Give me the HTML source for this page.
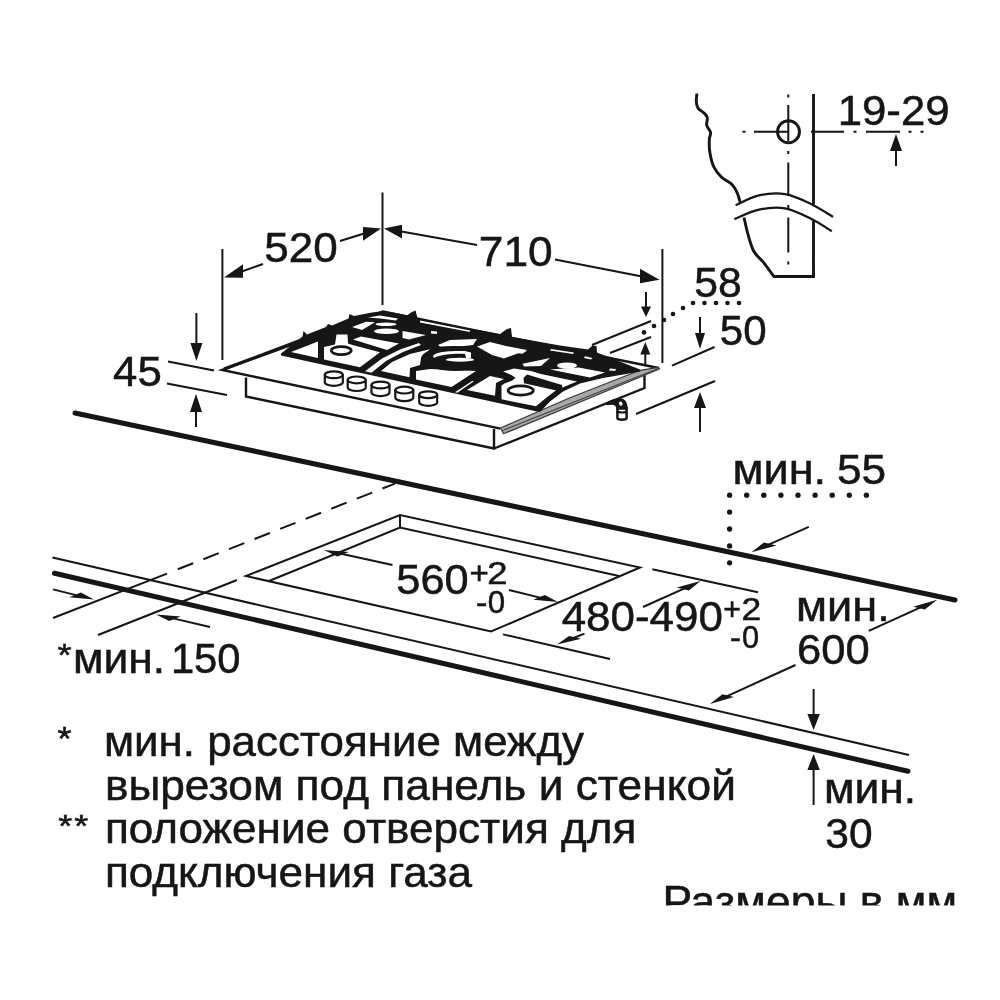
<!DOCTYPE html>
<html>
<head>
<meta charset="utf-8">
<title>Installation dimensions</title>
<style>
html,body{margin:0;padding:0;background:#fff;}
body{width:1000px;height:1000px;overflow:hidden;position:relative;}
svg{position:absolute;left:0;top:0;display:block;}
text{font-family:"Liberation Sans",sans-serif;fill:#141414;stroke:#141414;stroke-width:0.5px;}
.k{stroke:#141414;fill:none;stroke-linecap:butt;stroke-linejoin:miter;}
.n{stroke-width:2;}
.m{stroke-width:2.9;}
.h{stroke-width:5;stroke-linecap:round;}
.a{fill:#141414;stroke:none;}
.w{fill:#fff;stroke:none;}
.gr{stroke:#777;fill:none;stroke-width:1.6;}
</style>
</head>
<body>
<svg width="1000" height="1000" viewBox="0 0 1000 1000">
<defs>
<clipPath id="cp"><rect x="0" y="0" width="1000" height="905.5"/></clipPath>
<filter id="soft" x="0" y="0" width="1000" height="1000" filterUnits="userSpaceOnUse"><feGaussianBlur stdDeviation="0.55"/></filter>
</defs>
<rect width="1000" height="1000" fill="#fff"/>
<g clip-path="url(#cp)"><g filter="url(#soft)">
<!-- wall section -->
<g class="k m" stroke-linejoin="round">
<path d="M696.9,93.5 C696.8,94.9 696.1,99.4 696.3,101.9 C696.5,104.4 696.9,106.6 698.2,108.4 C699.5,110.2 702.5,111.5 704,113 C705.5,114.5 706.8,115.5 707.3,117.5 C707.8,119.5 706.2,122.8 706.7,125.3 C707.2,127.8 710.2,130.1 710.6,132.5 C711,134.9 709.4,136.2 709.3,139.6 C709.2,142.9 709.1,148 709.9,152.6 C710.6,157.2 711.8,162.8 713.8,166.9 C715.8,171 718.6,174.4 721.6,177.3 C724.6,180.2 729.4,181.9 732,184.5 C734.6,187.1 735.8,189.7 737.2,192.9 C738.6,196.1 740,201.7 740.5,203.5"/>
<path d="M744,217.5 C744.7,220.3 746.4,228.8 748,234.4 C749.6,240 751.3,246.8 753.8,251.3 C756.3,255.9 761.5,260 763,261.7 L774,276.5 L813.5,276.5 L813.5,221"/>
<path d="M813.5,94 L813.5,204.5"/>
<circle cx="788.5" cy="131.8" r="11"/>
</g>
<g class="k" stroke-width="2.2">
<path d="M735.6,205.2 C739.5,203.6 750.8,197.2 759,195.4 C767.2,193.6 776.3,192.7 785,194.1 C793.7,195.5 803,200.1 811,203.9 C819,207.7 829.4,214.7 833.1,216.9"/>
<path d="M734.3,219.1 C738.4,217.5 750.5,211.5 759,209.7 C767.5,207.9 776.3,206.9 785,208.4 C793.7,209.9 803.2,215 811,218.8 C818.8,222.6 828.3,229.1 831.8,231.2"/>
</g>
<g class="k n">
<path d="M788.300,94.500 v3 M788.300,105 V141 M788.300,151 v3 M788.300,162.5 V195.400 M788.300,205 v4 M788.300,217.500 V252.6 M788.300,261.500 v3"/>
<path d="M742.500,131.8 h3 M754,131.8 H788 M811,131.8 H844 M853.500,131.8 h3 M866,131.8 H900 M908.500,131.8 h3 M920.500,131.8 h3"/>
</g>
<path class="k n" d="M896,166 L896,149"/><path class="a" d="M896,134 L902,151 L890,151 Z"/>
<text x="837.7" y="125" font-size="42.5" textLength="111.9" lengthAdjust="spacingAndGlyphs">19-29</text>
<!-- countertop -->
<path class="k h"  d="M75,413 L955,600"/>
<path class="k h"  d="M54.5,573.3 L908,771.3"/>
<path class="k n"  d="M52.5,557.5 L909,755"/>
<path class="k n" d="M246,576 L400,515 L640,567.5 L491,631.5 Z"/>
<path class="k n" d="M400,515 V527.5 M269,581 L400,527.5 L619,576"/>
<path class="k n" d="M652.3,569.2 L758,592.2 M503,634.4 L610,659"/>
<path class="k n" d="M53,618 L167,573.6 M98,635 L237,580"/>
<path class="k n" stroke-dasharray="16.5,11" d="M177.8,569.3 L395,483.6"/>
<path class="k n" d="M53,589.4 L78,595.6"/><path class="a" d="M94,599.6 L80.8,592.6 L69.3,597.2 Z"/>
<path class="k n" d="M210,627 L172.1,618.1"/><path class="a" d="M156,614.4 L180.7,616.5 L169.2,621.1 Z"/>
<text x="57.5" y="666.1" font-size="32" textLength="14.1" lengthAdjust="spacingAndGlyphs">*</text>
<text x="72.9" y="673" font-size="42" textLength="92.2" lengthAdjust="spacingAndGlyphs">мин.</text>
<text x="170.9" y="673" font-size="42" textLength="69.7" lengthAdjust="spacingAndGlyphs">150</text>
<path class="k n" d="M392.5,565 L340.1,553.5"/><path class="a" d="M324,550 L348.8,551.9 L337.3,556.5 Z"/>
<text x="396.3" y="594" font-size="42" textLength="72.4" lengthAdjust="spacingAndGlyphs">560</text>
<text x="469.4" y="583.6" font-size="31" textLength="19.3" lengthAdjust="spacingAndGlyphs">+</text>
<text x="487.2" y="583.6" font-size="31.5" textLength="20.3" lengthAdjust="spacingAndGlyphs">2</text>
<text x="476.1" y="613.4" font-size="31" textLength="11.4" lengthAdjust="spacingAndGlyphs">-</text>
<text x="487.8" y="613.4" font-size="31.5" textLength="17.4" lengthAdjust="spacingAndGlyphs">0</text>
<path class="k n" d="M509,590 L542,598.1"/><path class="a" d="M558,602 L544.8,595.1 L533.3,599.7 Z"/>
<text x="561.7" y="630.8" font-size="42" textLength="161.2" lengthAdjust="spacingAndGlyphs">480-490</text>
<text x="723.3" y="620.3" font-size="31" textLength="17.7" lengthAdjust="spacingAndGlyphs">+</text>
<text x="741.4" y="620.3" font-size="31.5" textLength="19.7" lengthAdjust="spacingAndGlyphs">2</text>
<text x="730" y="648.3" font-size="31" textLength="10.9" lengthAdjust="spacingAndGlyphs">-</text>
<text x="742" y="648.3" font-size="31.5" textLength="17.1" lengthAdjust="spacingAndGlyphs">0</text>
<path class="k n" d="M584.5,633.6 L572.3,638.5"/><path class="a" d="M557,644.6 L581.1,638.8 L569.1,636 Z"/>
<path class="k n" d="M643,607 L685.6,587.8"/><path class="a" d="M700.6,581 L688.9,590.4 L676.8,587.6 Z"/>
<text x="732.4" y="484.4" font-size="42" textLength="93.7" lengthAdjust="spacingAndGlyphs">мин.</text>
<text x="837" y="484.4" font-size="42" textLength="49.2" lengthAdjust="spacingAndGlyphs">55</text>
<circle class="a" cx="729.6" cy="495.2" r="2.65"/><circle class="a" cx="746.7" cy="495.2" r="2.65"/><circle class="a" cx="763.8" cy="495.2" r="2.65"/><circle class="a" cx="780.9" cy="495.2" r="2.65"/><circle class="a" cx="798" cy="495.2" r="2.65"/><circle class="a" cx="815.1" cy="495.2" r="2.65"/><circle class="a" cx="832.2" cy="495.2" r="2.65"/><circle class="a" cx="849.3" cy="495.2" r="2.65"/><circle class="a" cx="866.4" cy="495.2" r="2.65"/><circle class="a" cx="729.6" cy="512.1" r="2.65"/><circle class="a" cx="729.6" cy="529" r="2.65"/><circle class="a" cx="729.6" cy="545.9" r="2.65"/><circle class="a" cx="729.6" cy="562.8" r="2.65"/>
<path class="k n" d="M808.8,526.9 L767.5,545.2"/><path class="a" d="M751.5,552.3 L776.6,545.5 L763.9,542.5 Z"/>
<text x="796" y="620.5" font-size="42" textLength="93.7" lengthAdjust="spacingAndGlyphs">мин.</text>
<text x="797" y="664.4" font-size="42" textLength="72.7" lengthAdjust="spacingAndGlyphs">600</text>
<path class="k n" d="M868.8,630.8 L921.7,606.8"/><path class="a" d="M937.2,599.8 L924.8,609.4 L913.1,606.7 Z"/>
<path class="k n" d="M795.5,665 L725.5,696.9"/><path class="a" d="M710,704 L734,697.1 L722.4,694.3 Z"/>
<path class="k n" d="M813.6,689 L813.6,716"/><path class="a" d="M813.6,730 L807.4,714 L819.8,714 Z"/>
<path class="k n" d="M813.6,805 L813.6,768"/><path class="a" d="M813.6,754 L819.8,770 L807.4,770 Z"/>
<text x="823.9" y="803.4" font-size="42" textLength="92.2" lengthAdjust="spacingAndGlyphs">мин.</text>
<text x="825.3" y="847.6" font-size="42" textLength="47.3" lengthAdjust="spacingAndGlyphs">30</text>
<text x="57.5" y="749.8" font-size="33" textLength="14.1" lengthAdjust="spacingAndGlyphs">*</text>
<text x="103.9" y="756.4" font-size="43.2" textLength="480.1" lengthAdjust="spacingAndGlyphs">мин. расстояние между</text>
<text x="104.9" y="799.8" font-size="43.2" textLength="631" lengthAdjust="spacingAndGlyphs">вырезом под панель и стенкой</text>
<text x="58.2" y="837" font-size="31" textLength="14.1" lengthAdjust="spacingAndGlyphs">*</text>
<text x="74.3" y="837" font-size="31" textLength="14.1" lengthAdjust="spacingAndGlyphs">*</text>
<text x="104.9" y="843" font-size="43.2" textLength="531.5" lengthAdjust="spacingAndGlyphs">положение отверстия для</text>
<text x="104.9" y="887.4" font-size="43.2" textLength="367.1" lengthAdjust="spacingAndGlyphs">подключения газа</text>
<text x="662.4" y="917" font-size="43.7" textLength="294.6" lengthAdjust="spacingAndGlyphs">Размеры в мм</text>
<!-- hob dims -->
<path class="k n"  d="M222.4,249 L222.4,360"/>
<path class="k n"  d="M382.5,192.5 L382.5,305"/>
<path class="k n"  d="M662.4,249 L662.4,363"/>
<text x="264.2" y="262.4" font-size="42" textLength="73.5" lengthAdjust="spacingAndGlyphs">520</text>
<path class="k n" d="M263,264 L241,271.7"/><path class="a" d="M224,277.6 L243,264.3 L243,277.7 Z"/>
<path class="k n" d="M340,241 L365,233.3"/><path class="a" d="M381,228.4 L363,227.1 L363,240.7 Z"/>
<text x="478.8" y="265.6" font-size="42" textLength="73.9" lengthAdjust="spacingAndGlyphs">710</text>
<path class="k n" d="M477,245 L400,231.3"/><path class="a" d="M384,228.4 L402,224.8 L402,238.4 Z"/>
<path class="k n" d="M555,259.6 L642,276.4"/><path class="a" d="M659.5,279.8 L640,268.8 L640,283.2 Z"/>
<text x="113.1" y="386" font-size="42" textLength="48.7" lengthAdjust="spacingAndGlyphs">45</text>
<path class="k n"  d="M168,361.6 L214,370.4"/>
<path class="k n"  d="M167,383.6 L227,395"/>
<path class="k n" d="M196.4,313 L196.4,345"/><path class="a" d="M196.4,361 L190.4,343 L202.4,343 Z"/>
<path class="k n" d="M196,427 L196,410"/><path class="a" d="M196,394 L202,412 L190,412 Z"/>
<text x="694.3" y="296.5" font-size="42" textLength="47.5" lengthAdjust="spacingAndGlyphs">58</text>
<circle class="a" cx="693" cy="303" r="2.3"/><circle class="a" cx="704.5" cy="303" r="2.3"/><circle class="a" cx="716" cy="303" r="2.3"/><circle class="a" cx="727.5" cy="303" r="2.3"/><circle class="a" cx="739" cy="303" r="2.3"/><circle class="a" cx="683" cy="308" r="2.3"/><circle class="a" cx="673" cy="314" r="2.3"/><circle class="a" cx="664" cy="320" r="2.3"/><circle class="a" cx="654" cy="326" r="2.3"/><circle class="a" cx="644" cy="332.4" r="2.3"/>
<path class="k n"  d="M592,345 L651,321"/>
<path class="k n"  d="M610,353 L651,337"/>
<path class="k n" d="M646,292 L646,308.5"/><path class="a" d="M646,317 L641,306.5 L651,306.5 Z"/>
<path class="k n" d="M645.3,366 L645.3,352.5"/><path class="a" d="M645.3,342 L650.3,354.5 L640.3,354.5 Z"/>
<text x="719.8" y="345" font-size="42" textLength="46.8" lengthAdjust="spacingAndGlyphs">50</text>
<path class="k n" d="M700,317 L700,335"/><path class="a" d="M700,349 L695,333 L705,333 Z"/>
<path class="k n"  d="M672,365.6 L714.5,347"/>
<path class="k n"  d="M636,414 L715,381"/>
<path class="k n" d="M700,432 L700,406"/><path class="a" d="M700,392 L706,408 L694,408 Z"/>
<!-- hob -->
<g id="hob">
<path class="k" stroke-width="2.4" d="M500.5,428.700 L222,370 L383,311.5 L658.5,368"/>
<path class="k" stroke-width="2.4" d="M246,377.5 V396.500 L494,448.500 V429 M494,448.500 L644.5,388 V373"/>
<polygon points="500.5,428 570,397.8 640,370.3 658.5,367.3 659.5,369 503.5,433.800" fill="#a8a8a8" stroke="#3a3a3a" stroke-width="1.200" stroke-linejoin="round"/>
<path d="M502,430.800 L659,368.200" stroke="#444" stroke-width="1.200" fill="none"/>
<path class="k" stroke="#666" stroke-width="3" d="M224,369 L300,340.5"/>
<polygon class="a" stroke="#151515" stroke-width="1" stroke-linejoin="round" points="281,353.5 302.5,336.5 303.5,331 307,334.5 326,327 328,324 332,325.5 348.5,318.5 349.5,314 354,316 372,312.5 384,311 400,314 407,315.5 411,312.5 415.5,310.5 417.5,318 470,328.5 500,334 507,329 511,328 512,337 560,345.5 588,349.5 592.5,345.5 596.5,346 597,352.5 640,369.5 640.5,371.5 603,378 580,383.5 563,391.5 550,401.5 540.5,411.5 537,411.5 281,355.5"/>
<g class="w">
<polygon class="w"  points="291,352 318,341.5 318,358"/>
<polygon class="w"  points="324,347 335,344.5 336.5,334.5 347.5,334.5 348,343.5 352.5,345 380,352.3 360,367.3 324,359.5"/>
<polygon class="w"  points="353,339.5 361,336.5 399,343.5 387,350"/>
<polygon class="w"  points="352,327 366,321.8 375,322.2 362,330"/>
<polygon class="w"  points="368,317.5 380,315.5 398,318.5 396,320.5 380,318.5"/>
<ellipse class="w"  cx="386.5" cy="331.3" rx="12.5" ry="2.8"/>
<ellipse class="w"  cx="386" cy="324.3" rx="10.5" ry="1.8"/>
<polygon class="w"  points="402.5,331 426,335 409,339.5 402.5,338"/>
<polygon class="w"  points="431,331 437,331.5 437,334 431,333.5"/>
<polygon class="w"  points="365,371.3 371.5,372.7 386,361 403,352 421,345 419,343 400,349.5 382,358.5"/>
<polygon class="w"  points="381,371 392,362 410,354 430,349.3 421,358 420,365 410,368 409.5,377.3"/>
<polygon class="w"  points="416,371 430,369 476,371 451.5,387 416,379.5"/>
<polygon class="w"  points="438,345 450,340 477,339 473,345 460,346.5 440,346.5"/>
<polygon class="w"  points="477,346.5 490,342 506,346 527,350 504,358.5 492,355"/>
<polygon class="w"  points="420,320.5 470,330.5 470,332 420,322.5"/>
<polygon class="w"  points="455,392.2 457.3,392.8 473.6,381.6 472.5,380.8"/>
<polygon class="w"  points="467,390 490,376 504,379 496,383 495,395.8"/>
<polygon class="w"  points="501.5,385.5 505,383.2 512,380.7 515.5,377.7 511,374.7 503,371.5 514,368.5 531,371 541,374 577,381.6 563.6,387 557,389.5 546,398 536,406.3 501.5,399.3"/>
<polygon class="w"  points="520,349.5 527,350.5 522.5,353.75 516,353"/>
<polygon class="w"  points="522.5,363.75 550,358 541,366 524,366.5"/>
<polygon class="w"  points="550,369.4 578.75,367.5 605,372.5 590,377.5"/>
<polygon class="w"  points="551,349 574,352.5 573,354 550,350.5"/>
<polygon class="w"  points="585,356.25 592.5,358 591,359.5 584,358"/>
<polygon class="w"  points="610,368.5 616,369 615,371 609,370.5"/>
<ellipse class="w"  cx="567" cy="365.6" rx="10" ry="3.2"/>
</g>
<ellipse class="k" stroke-width="2.6" fill="#fff" cx="341.25" cy="350.6" rx="10" ry="4"/>
<ellipse class="a"  cx="455" cy="358.5" rx="34" ry="12.5"/>
<path class="w" d="M433,356 C436,352 445,351 465,351 L471,352.500 L471,358 L466,358 L465,354 C455,353.500 442,354 434,358 Z"/>
<ellipse class="w"  cx="460" cy="359.7" rx="14" ry="2"/>
<polygon class="a"  points="527,374.5 562,385 562.5,391.8 557.5,390.8 524,383.2 523.5,378"/>
<ellipse class="k" stroke-width="2.8" fill="#fff" cx="520.7" cy="390.5" rx="12.6" ry="4.6"/>
<ellipse class="w"  cx="531" cy="391.5" rx="0" ry="0"/>
<path class="k" stroke-width="2.2" fill="#fff" d="M324.8,374.8 v7.500 a9,3.6 0 0 0 18,0 v-7.500"/><ellipse class="k" stroke-width="2.2" fill="#b0b0b0" cx="333.8" cy="374.8" rx="9" ry="3.4"/>
<path class="k" stroke-width="2.2" fill="#fff" d="M347.7,379.9 v7.500 a9,3.6 0 0 0 18,0 v-7.500"/><ellipse class="k" stroke-width="2.2" fill="#b0b0b0" cx="356.7" cy="379.9" rx="9" ry="3.4"/>
<path class="k" stroke-width="2.2" fill="#fff" d="M371.5,385 v7.500 a9,3.6 0 0 0 18,0 v-7.500"/><ellipse class="k" stroke-width="2.2" fill="#b0b0b0" cx="380.5" cy="385" rx="9" ry="3.4"/>
<path class="k" stroke-width="2.2" fill="#fff" d="M395.3,390.1 v7.500 a9,3.6 0 0 0 18,0 v-7.500"/><ellipse class="k" stroke-width="2.2" fill="#b0b0b0" cx="404.3" cy="390.1" rx="9" ry="3.4"/>
<path class="k" stroke-width="2.2" fill="#fff" d="M419.2,394.7 v7.500 a9,3.6 0 0 0 18,0 v-7.500"/><ellipse class="k" stroke-width="2.2" fill="#b0b0b0" cx="428.2" cy="394.7" rx="9" ry="3.4"/>
<path class="a" d="M605.500,403 C610,400 615,398.300 620,398.300 C625,398.600 627.5,402 627.7,408.500 L616.3,408.500 C616,406 614.500,404.800 612,404.800 C610,404.800 608,405 606.500,405.300 Z"/>
<ellipse class="w" cx="620.8" cy="403.600" rx="1.700" ry="2.200" transform="rotate(-30 620.8 403.6)"/>
<path class="k" stroke-width="2.5" fill="#fff" d="M617.400,408.500 V418 a4.6,1.700 0 0 0 9.200,0 V408.500 Z"/>
<path class="k" stroke-width="2.200" fill="none" d="M617.400,411 a4.6,1.500 0 0 0 9.200,0"/>
</g>
</g></g>
</svg>
</body>
</html>
